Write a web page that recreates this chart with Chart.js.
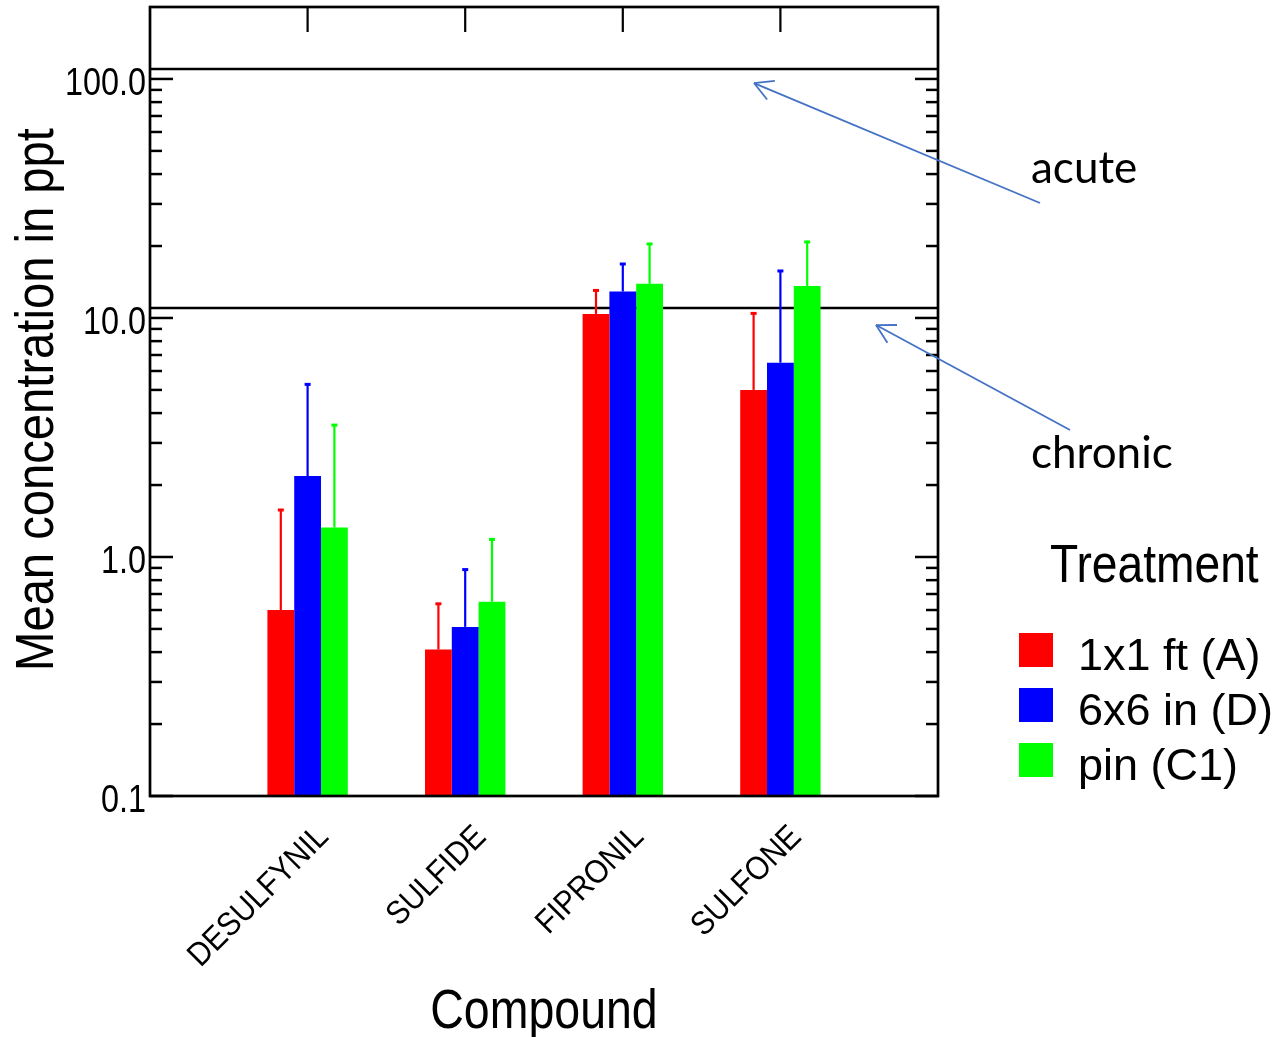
<!DOCTYPE html>
<html>
<head>
<meta charset="utf-8">
<script src="https://cdn.jsdelivr.net/npm/chart.js@4.4.1/dist/chart.umd.min.js"></script>
<style>
  html, body { margin: 0; padding: 0; background: #fff; }
  #wrap { width: 1278px; height: 1037px; }
</style>
</head>
<body>
<div id="wrap"><canvas id="chart" width="1278" height="1037"></canvas></div>
<script>
// data (log scale, ppt)
const compounds = ['DESULFYNIL', 'SULFIDE', 'FIPRONIL', 'SULFONE'];
const treatments = ['1x1 ft (A)', '6x6 in (D)', 'pin (C1)'];
const treatmentColors = ['#ff0000', '#0000ff', '#00ff00'];
const meanA  = [0.60, 0.41, 10.4, 5.0];
const meanD  = [2.18, 0.51, 12.9, 6.5];
const meanC1 = [1.33, 0.65, 13.9, 13.6];
// top of the error whiskers
const upperA  = [1.58, 0.64, 13.1, 10.5];
const upperD  = [5.3, 0.89, 16.9, 15.8];
const upperC1 = [3.58, 1.19, 20.5, 20.9];
const yTicks = [0.1, 1, 10, 100];
const yTickLabels = ['0.1', '1.0', '10.0', '100.0'];
const yMinorTicks = [0.2, 0.3, 0.4, 0.5, 0.6, 0.7, 0.8, 0.9, 2, 3, 4, 5, 6, 7, 8, 9, 20, 30, 40, 50, 60, 70, 80, 90];
const acuteLevel = 110;
const chronicLevel = 11;

const means = [meanA, meanD, meanC1];
const uppers = [upperA, upperD, upperC1];
// empty slot at each end so the groups sit at 1/5 .. 4/5 of the width
const xLabels = ['', ...compounds, ''];
const pad = arr => [null, ...arr, null];

function txt(ctx, s, x, y, o) {
  ctx.save();
  ctx.translate(x, y);
  if (o.rot) ctx.rotate(o.rot);
  ctx.scale(o.sx || 1, 1);
  ctx.font = o.font;
  ctx.fillStyle = o.color || '#000';
  ctx.textAlign = o.align || 'left';
  ctx.textBaseline = o.base || 'alphabetic';
  ctx.fillText(s, 0, 0);
  ctx.restore();
}

function line(ctx, x1, y1, x2, y2) {
  ctx.beginPath();
  ctx.moveTo(x1, y1);
  ctx.lineTo(x2, y2);
  ctx.stroke();
}

// threshold lines sit behind the bars
const thresholdPlugin = {
  id: 'thresholds',
  beforeDatasetsDraw(chart) {
    const { ctx, chartArea: a, scales: { y } } = chart;
    ctx.save();
    ctx.strokeStyle = '#000';
    ctx.lineWidth = 2.5;
    [acuteLevel, chronicLevel].forEach(v => {
      const py = y.getPixelForValue(v);
      line(ctx, a.left, py, a.right, py);
    });
    ctx.restore();
  }
};

// error whiskers, frame and tick marks
const overlayPlugin = {
  id: 'overlay',
  afterDatasetsDraw(chart) {
    const { ctx, chartArea: a, scales: { x, y } } = chart;
    ctx.save();
    chart.data.datasets.forEach((ds, i) => {
      const meta = chart.getDatasetMeta(i);
      ctx.strokeStyle = ds.backgroundColor;
      ctx.fillStyle = ds.backgroundColor;
      ctx.lineWidth = 2.2;
      meta.data.forEach((bar, j) => {
        const up = uppers[i][j - 1];
        if (ds.data[j] == null || up == null) return;
        const ty = y.getPixelForValue(up);
        line(ctx, bar.x, bar.y, bar.x, ty);
        ctx.fillRect(bar.x - 3, ty - 1, 6, 3);
      });
    });

    ctx.strokeStyle = '#000';
    ctx.lineWidth = 2.7;
    ctx.strokeRect(a.left, a.top, a.right - a.left, a.bottom - a.top);

    // y ticks on both sides, pointing inward
    ctx.lineWidth = 2.5;
    yTicks.forEach(v => {
      const py = y.getPixelForValue(v);
      line(ctx, a.left, py, a.left + 23, py);
      line(ctx, a.right, py, a.right - 23, py);
    });
    yMinorTicks.forEach(v => {
      const py = y.getPixelForValue(v);
      line(ctx, a.left, py, a.left + 12, py);
      line(ctx, a.right, py, a.right - 12, py);
    });
    // top ticks at the compound positions
    ctx.lineWidth = 2.2;
    compounds.forEach((c, k) => {
      const px = x.getPixelForValue(k + 1);
      line(ctx, px, a.top, px, a.top + 25);
    });
    ctx.restore();
  },
  afterDraw(chart) {
    const { ctx, chartArea: a, scales: { x, y } } = chart;
    const arial = 'Liberation Sans, Arial, sans-serif';

    yTicks.forEach((v, k) => {
      txt(ctx, yTickLabels[k], a.left - 4, y.getPixelForValue(v) + 16,
        { font: `39px ${arial}`, sx: 0.83, align: 'right' });
    });
    txt(ctx, 'Mean concentration in ppt', 53, (a.top + a.bottom) / 2 - 2,
      { font: `53px ${arial}`, sx: 0.89, align: 'center', rot: -Math.PI / 2 });

    compounds.forEach((c, k) => {
      txt(ctx, c, x.getPixelForValue(k + 1) + 16, a.bottom + 36,
        { font: `33px ${arial}`, sx: 0.9, align: 'right', base: 'middle', rot: -Math.PI / 4 });
    });
    txt(ctx, 'Compound', (a.left + a.right) / 2, a.bottom + 232,
      { font: `56px ${arial}`, sx: 0.83, align: 'center' });

    // legend
    txt(ctx, 'Treatment', a.right + 112, 582, { font: `54px ${arial}`, sx: 0.855 });
    treatments.forEach((t, k) => {
      const top = 633 + k * 55;
      ctx.fillStyle = treatmentColors[k];
      ctx.fillRect(a.right + 81, top, 34, 34);
      txt(ctx, t, a.right + 140, top + 37, { font: `45px ${arial}` });
    });

    // annotations with arrows
    const calib = 'Lato, Carlito, sans-serif';
    const notes = [
      { label: 'acute', level: acuteLevel, tip: [a.right - 184, 14], tail: [a.right + 102, 203], text: [a.right + 93, 183] },
      { label: 'chronic', level: chronicLevel, tip: [a.right - 62, 17], tail: [a.right + 132, 430], text: [a.right + 93, 468] }
    ];
    notes.forEach(n => {
      const tx = n.tip[0], ty = y.getPixelForValue(n.level) + n.tip[1];
      const [ex, ey] = n.tail;
      ctx.save();
      ctx.strokeStyle = '#4472c4';
      ctx.lineWidth = 1.8;
      line(ctx, ex, ey, tx, ty);
      const ang = Math.atan2(ey - ty, ex - tx);
      [-0.5, 0.5].forEach(d => {
        line(ctx, tx, ty, tx + 21 * Math.cos(ang + d), ty + 21 * Math.sin(ang + d));
      });
      ctx.restore();
      txt(ctx, n.label, n.text[0], n.text[1], { font: `44px ${calib}` });
    });
  }
};

new Chart(document.getElementById('chart'), {
  type: 'bar',
  data: {
    labels: xLabels,
    datasets: treatments.map((t, i) => ({
      label: t,
      data: pad(means[i]),
      backgroundColor: treatmentColors[i],
      borderWidth: 0,
      barPercentage: 1.0,
      categoryPercentage: 0.51
    }))
  },
  options: {
    responsive: false,
    animation: false,
    devicePixelRatio: 1,
    layout: { padding: { top: 7, right: 340, left: 0, bottom: 0 } },
    plugins: {
      legend: { display: false },
      tooltip: { enabled: false }
    },
    scales: {
      x: {
        type: 'category',
        offset: false,
        grid: { display: false, drawTicks: false },
        border: { display: false },
        ticks: { display: false },
        afterFit: s => { s.height = 241; s.paddingLeft = 0; s.paddingRight = 0; }
      },
      y: {
        type: 'logarithmic',
        min: 0.1,
        max: 200,
        grid: { display: false, drawTicks: false },
        border: { display: false },
        ticks: { display: false },
        afterFit: s => { s.width = 150; s.paddingTop = 0; s.paddingBottom = 0; }
      }
    }
  },
  plugins: [thresholdPlugin, overlayPlugin]
});
</script>
</body>
</html>
